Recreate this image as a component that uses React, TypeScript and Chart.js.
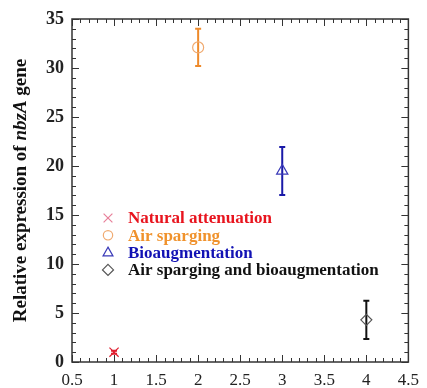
import React, { useEffect, useRef } from "react";
import { Chart, registerables } from "chart.js";

Chart.register(...registerables);

// ---- data ----
const seriesNames = [
  "Natural attenuation",
  "Air sparging",
  "Bioaugmentation",
  "Air sparging and bioaugmentation",
];
const xValues = [1, 2, 3, 4];
const meanValues = [1.0, 32.1, 19.5, 4.3];
const errorValues = [0.15, 1.9, 2.45, 1.95];
const pointStyles = ["crossRot", "circle", "triangle", "rectRot"];
const markerColors = ["#e8809a", "#f0aa70", "#3a3ab8", "#555555"];
const barColors = ["#e02030", "#ee8a2a", "#1a1aa8", "#111111"];
const labelColors = ["#e8141e", "#f0922c", "#1212b4", "#111111"];
const yTitleParts = [
  { text: "Relative expression of ", italic: false },
  { text: "nbzA", italic: true },
  { text: " gene", italic: false },
];
const xMin = 0.5, xMax = 4.5, xStep = 0.5, xMinor = 0.1;
const yMin = 0, yMax = 35, yStep = 5, yMinor = 1;

const SERIF = "'Liberation Serif', 'Times New Roman', serif";

function drawMarker(ctx: CanvasRenderingContext2D, style: string, x: number, y: number, r: number) {
  ctx.beginPath();
  if (style === "crossRot") {
    const d = r * 0.8;
    ctx.moveTo(x - d, y - d); ctx.lineTo(x + d, y + d);
    ctx.moveTo(x + d, y - d); ctx.lineTo(x - d, y + d);
  } else if (style === "circle") {
    ctx.arc(x, y, r * 0.85, 0, Math.PI * 2);
  } else if (style === "triangle") {
    ctx.moveTo(x, y - r);
    ctx.lineTo(x + r * 0.9, y + r * 0.6);
    ctx.lineTo(x - r * 0.9, y + r * 0.6);
    ctx.closePath();
  } else {
    ctx.moveTo(x, y - r); ctx.lineTo(x + r, y); ctx.lineTo(x, y + r); ctx.lineTo(x - r, y);
    ctx.closePath();
  }
  ctx.stroke();
}

const customPlugin = {
  id: "custom",
  beforeDatasetsDraw(chart: any) {
    const ctx = chart.ctx as CanvasRenderingContext2D;
    const xs = chart.scales.x, ys = chart.scales.y;
    ctx.save();
    ctx.lineWidth = 2;
    for (let i = 0; i < xValues.length; i++) {
      const px = xs.getPixelForValue(xValues[i]);
      const top = ys.getPixelForValue(meanValues[i] + errorValues[i]);
      const bot = ys.getPixelForValue(meanValues[i] - errorValues[i]);
      ctx.strokeStyle = barColors[i];
      ctx.beginPath();
      ctx.moveTo(px, top); ctx.lineTo(px, bot);
      ctx.moveTo(px - 3, top); ctx.lineTo(px + 3, top);
      ctx.moveTo(px - 3, bot); ctx.lineTo(px + 3, bot);
      ctx.stroke();
    }
    ctx.restore();
  },
  afterDraw(chart: any) {
    const ctx = chart.ctx as CanvasRenderingContext2D;
    const a = chart.chartArea;
    const xs = chart.scales.x, ys = chart.scales.y;
    ctx.save();
    // frame
    ctx.strokeStyle = "#333";
    ctx.lineWidth = 1.5;
    ctx.strokeRect(a.left, a.top, a.right - a.left, a.bottom - a.top);
    // ticks
    ctx.lineWidth = 1;
    ctx.beginPath();
    const nx = Math.round((xMax - xMin) / xMinor);
    for (let k = 0; k <= nx; k++) {
      const v = xMin + k * xMinor;
      const major = Math.abs(v / xStep - Math.round(v / xStep)) < 1e-6;
      const len = major ? 7 : 4;
      const px = Math.round(xs.getPixelForValue(v)) + 0.5;
      ctx.moveTo(px, a.bottom); ctx.lineTo(px, a.bottom - len);
      ctx.moveTo(px, a.top); ctx.lineTo(px, a.top + len);
    }
    const ny = Math.round((yMax - yMin) / yMinor);
    for (let k = 0; k <= ny; k++) {
      const v = yMin + k * yMinor;
      const major = Math.abs(v / yStep - Math.round(v / yStep)) < 1e-6;
      const len = major ? 7 : 4;
      const py = Math.round(ys.getPixelForValue(v)) + 0.5;
      ctx.moveTo(a.left, py); ctx.lineTo(a.left + len, py);
      ctx.moveTo(a.right, py); ctx.lineTo(a.right - len, py);
    }
    ctx.stroke();

    // legend
    const lx = a.left + 36, tx = a.left + 56;
    const ly0 = a.top + 199, dy = 17.3;
    ctx.font = `bold 17px ${SERIF}`;
    ctx.textBaseline = "middle";
    ctx.textAlign = "left";
    for (let i = 0; i < seriesNames.length; i++) {
      const y = ly0 + i * dy;
      ctx.strokeStyle = markerColors[i];
      ctx.lineWidth = 1.2;
      drawMarker(ctx, pointStyles[i], lx, y, 5.5);
      ctx.fillStyle = labelColors[i];
      ctx.fillText(seriesNames[i], tx, y + 1);
    }

    // y title
    const fontFor = (it: boolean) => `${it ? "italic " : ""}bold 19px ${SERIF}`;
    let total = 0;
    for (const p of yTitleParts) { ctx.font = fontFor(p.italic); total += ctx.measureText(p.text).width; }
    ctx.translate(21, (a.top + a.bottom) / 2);
    ctx.rotate(-Math.PI / 2);
    ctx.fillStyle = "#111";
    ctx.textBaseline = "middle";
    let cx = -total / 2;
    for (const p of yTitleParts) {
      ctx.font = fontFor(p.italic);
      ctx.fillText(p.text, cx, 0);
      cx += ctx.measureText(p.text).width;
    }
    ctx.restore();
  },
};

export default function App() {
  const ref = useRef<HTMLCanvasElement | null>(null);
  useEffect(() => {
    if (!ref.current) return;
    const datasets = seriesNames.map((name, i) => ({
      label: name,
      data: [{ x: xValues[i], y: meanValues[i] }],
      pointStyle: pointStyles[i] as any,
      pointRadius: pointStyles[i] === "circle" ? 5.5 : pointStyles[i] === "rectRot" ? 5.5 : 6.5,
      pointBorderWidth: 1.2,
      pointBorderColor: i === 0 ? barColors[0] : markerColors[i],
      pointBackgroundColor: "rgba(0,0,0,0)",
      showLine: false,
    }));
    const chart = new Chart(ref.current, {
      type: "scatter",
      data: { datasets },
      plugins: [customPlugin],
      options: {
        animation: false,
        responsive: false,
        devicePixelRatio: 1,
        layout: { padding: { top: 19, right: 12, left: 0, bottom: 0 } },
        plugins: { legend: { display: false }, tooltip: { enabled: false } },
        scales: {
          x: {
            type: "linear",
            min: xMin,
            max: xMax,
            grid: { display: false, drawTicks: false },
            border: { display: false },
            afterFit: (s: any) => { s.height = 26; },
            ticks: {
              stepSize: xStep,
              autoSkip: false,
              maxRotation: 0,
              padding: 8,
              color: "#222",
              font: { family: SERIF, size: 17 },
              callback: (v: any) => String(Math.round(Number(v) * 10) / 10),
            },
          },
          y: {
            type: "linear",
            min: yMin,
            max: yMax,
            grid: { display: false, drawTicks: false },
            border: { display: false },
            afterFit: (s: any) => { s.width = 72; },
            ticks: {
              stepSize: yStep,
              padding: 8,
              color: "#222",
              font: { family: SERIF, size: 18, weight: "bold" },
              callback: (v: any) => String(v),
            },
          },
        },
      } as any,
    });
    return () => chart.destroy();
  }, []);
  return (
    <div style={{ position: "absolute", left: 0, top: 0, width: 427, height: 388, background: "#fff" }}>
      <canvas ref={ref} width={427} height={388} />
    </div>
  );
}
